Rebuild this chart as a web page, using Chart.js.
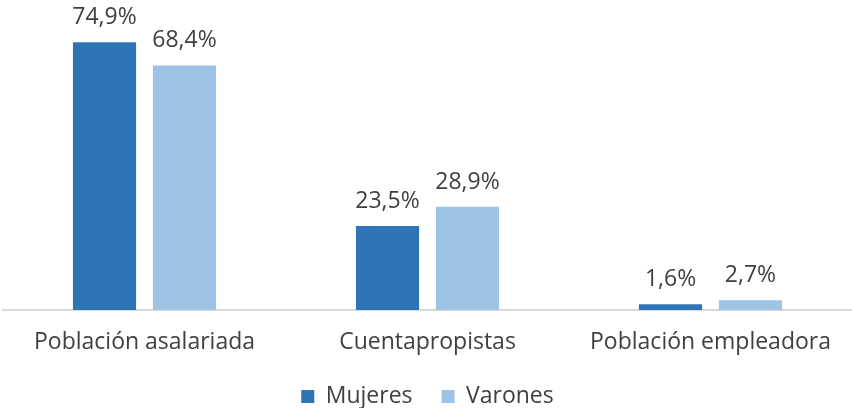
<!DOCTYPE html>
<html>
<head>
<meta charset="utf-8">
<script src="https://cdn.jsdelivr.net/npm/chart.js@4"></script>
<style>
html,body{margin:0;padding:0;background:#fff;}
#wrap{width:852px;height:408px;position:relative;}
</style>
</head>
<body>
<div id="wrap"><canvas id="c" width="852" height="408"></canvas></div>
<script>
const categories = ["Población asalariada", "Cuentapropistas", "Población empleadora"];
const mujeres = [74.9, 23.5, 1.6];
const varones = [68.4, 28.9, 2.7];
const seriesNames = ["Mujeres", "Varones"];

const FONT = "'Open Sans', 'Noto Sans', sans-serif";
const TXT = "#404040";

const labelPlugin = {
  id: 'valueLabels',
  afterDatasetsDraw(chart) {
    const ctx = chart.ctx;
    ctx.save();
    ctx.font = "23px " + FONT;
    ctx.fillStyle = TXT;
    ctx.textAlign = 'center';
    ctx.textBaseline = 'alphabetic';
    chart.data.datasets.forEach((ds, i) => {
      const meta = chart.getDatasetMeta(i);
      meta.data.forEach((bar, j) => {
        const v = ds.data[j];
        ctx.fillText(v.toFixed(1).replace('.', ',') + '%', bar.x, bar.y - 18);
      });
    });
    ctx.restore();
  }
};

new Chart(document.getElementById('c'), {
  type: 'bar',
  data: {
    labels: categories,
    datasets: [
      { label: seriesNames[0], data: mujeres, backgroundColor: '#2e75b6' },
      { label: seriesNames[1], data: varones, backgroundColor: '#9dc3e6' }
    ]
  },
  options: {
    responsive: false,
    animation: false,
    devicePixelRatio: 1,
    layout: { padding: { left: 3, right: 0, top: 24, bottom: -10 } },
    datasets: { bar: { categoryPercentage: 0.565, barPercentage: 0.79 } },
    scales: {
      y: { display: false, min: 0, max: 80 },
      x: {
        grid: { display: false, drawTicks: false },
        border: { display: true, color: '#d9d9d9', width: 2 },
        ticks: { color: TXT, font: { family: FONT, size: 23 }, padding: 19 },
        afterFit: (scale) => { scale.height = 46; }
      }
    },
    plugins: {
      tooltip: { enabled: false },
      legend: {
        position: 'bottom',
        labels: {
          color: TXT,
          font: { family: FONT, size: 23 },
          boxWidth: 13, boxHeight: 13,
          padding: 29
        }
      }
    }
  },
  plugins: [labelPlugin]
});
</script>
</body>
</html>
